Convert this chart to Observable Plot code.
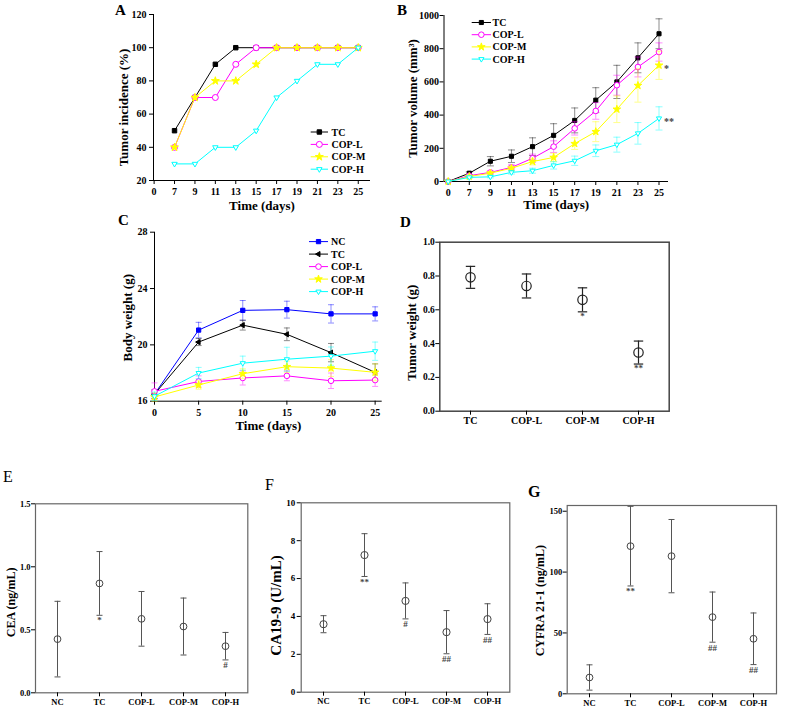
<!DOCTYPE html>
<html><head><meta charset="utf-8">
<script src="https://cdn.jsdelivr.net/npm/d3@7"></script>
<script src="https://cdn.jsdelivr.net/npm/@observablehq/plot@0.6"></script>
<style>
html,body{margin:0;padding:0;background:#fff;}
#fig{position:relative;width:787px;height:711px;overflow:hidden;font-family:"Liberation Serif",serif;}
</style></head><body><div id="fig"></div>
<script>
// ---------------- DATA ----------------
// Panel A: tumor incidence (%)
const daysAB = [0, 7, 9, 11, 13, 15, 17, 19, 21, 23, 25];
const daysA = [7, 9, 11, 13, 15, 17, 19, 21, 23, 25];
const incTC   = [50, 70, 90, 100, 100, 100, 100, 100, 100, 100];
const incCOPL = [40, 70, 70, 90, 100, 100, 100, 100, 100, 100];
const incCOPM = [40, 70, 80, 80, 90, 100, 100, 100, 100, 100];
const incCOPH = [30, 30, 40, 40, 50, 70, 80, 90, 90, 100];
// Panel B: tumor volume (mm3)
const volTC    = [0, 50, 122, 152, 210, 278, 368, 490, 600, 745, 890];
const volTCe   = [0, 8, 28, 38, 53, 70, 75, 75, 100, 90, 90];
const volCOPL  = [0, 35, 55, 85, 140, 210, 320, 425, 580, 690, 780];
const volCOPLe = [0, 6, 10, 15, 25, 35, 40, 50, 60, 60, 55];
const volCOPM  = [0, 30, 50, 80, 120, 145, 228, 300, 435, 578, 700];
const volCOPMe = [0, 5, 10, 12, 20, 25, 35, 60, 80, 100, 85];
const volCOPH  = [0, 25, 28, 55, 65, 97, 125, 185, 222, 290, 380];
const volCOPHe = [0, 5, 6, 10, 15, 22, 28, 35, 45, 65, 70];
const volSig = [{g: "COP-M", v: 700, s: "*"}, {g: "COP-H", v: 380, s: "**"}];
// Panel C: body weight (g)
const daysC = [0, 5, 10, 15, 20, 25];
const bwNC    = [16.5, 21.05, 22.45, 22.5, 22.2, 22.2];
const bwNCe   = [0.3, 0.55, 0.7, 0.6, 0.65, 0.5];
const bwTC    = [16.5, 20.2, 21.4, 20.75, 19.45, 18.05];
const bwTCe   = [0.3, 0.25, 0.35, 0.45, 0.65, 0.6];
const bwCOPL  = [16.7, 17.4, 17.65, 17.8, 17.45, 17.5];
const bwCOPLe = [0.6, 0.4, 0.5, 0.35, 0.55, 0.45];
const bwCOPM  = [16.3, 17.15, 17.95, 18.45, 18.35, 18.05];
const bwCOPMe = [0.3, 0.3, 0.35, 0.4, 0.6, 0.6];
const bwCOPH  = [16.35, 18.0, 18.7, 18.98, 19.2, 19.55];
const bwCOPHe = [0.3, 0.4, 0.5, 0.85, 0.65, 0.65];
// Panel D: tumor weight (g)
const groupsD = ["TC", "COP-L", "COP-M", "COP-H"];
const twMean = [0.792, 0.741, 0.659, 0.347];
const twErr  = [0.065, 0.071, 0.071, 0.068];
const twSig  = ["", "", "*", "**"];
// Panels E-G: serum markers
const groups5 = ["NC", "TC", "COP-L", "COP-M", "COP-H"];
const ceaMean = [0.426, 0.868, 0.587, 0.526, 0.370];
const ceaErr  = [0.300, 0.253, 0.217, 0.226, 0.109];
const ceaSig  = ["", "*", "", "", "#"];
const caMean = [3.59, 7.24, 4.82, 3.17, 3.86];
const caErr  = [0.45, 1.13, 0.95, 1.14, 0.81];
const caSig  = ["", "**", "#", "##", "##"];
const cyMean = [13.4, 121.3, 113.1, 63.0, 45.2];
const cyErr  = [10.4, 32.7, 30.1, 20.6, 21.2];
const cySig  = ["", "**", "", "##", "##"];

// ---------------- HELPERS ----------------
const FONT = "Liberation Serif";
const fig = document.getElementById("fig");
const baseStyle = {fontFamily: FONT, fontWeight: "bold", fontSize: "10px", background: "none", overflow: "visible", color: "black"};

const capSym = {draw(ctx, size) { const w = Math.sqrt(size / Math.PI); ctx.moveTo(-w, 0); ctx.lineTo(w, 0); }};
const triDown = {draw(ctx, size) { const R = Math.sqrt(size / Math.PI) * 1.3; ctx.moveTo(0, R); ctx.lineTo(-R * 0.866, -R / 2); ctx.lineTo(R * 0.866, -R / 2); ctx.closePath(); }};
const triLeft = {draw(ctx, size) { const R = Math.sqrt(size / Math.PI) * 1.3; ctx.moveTo(-R, 0); ctx.lineTo(R / 2, -R * 0.866); ctx.lineTo(R / 2, R * 0.866); ctx.closePath(); }};

function place(svg, left, top) {
  svg.style.position = "absolute";
  svg.style.left = left + "px";
  svg.style.top = top + "px";
  fig.appendChild(svg);
  return svg;
}

function errBars(rows, color, capR, op, sw) {
  const r = rows.filter(d => d.e > 0);
  const o = {stroke: color, strokeOpacity: op, strokeWidth: sw};
  return [
    Plot.ruleX(r, {x: "x", y1: d => d.v - d.e, y2: d => d.v + d.e, ...o}),
    Plot.dot(r, {x: "x", y: d => d.v - d.e, symbol: capSym, r: capR, fill: "none", ...o}),
    Plot.dot(r, {x: "x", y: d => d.v + d.e, symbol: capSym, r: capR, fill: "none", ...o})
  ];
}

function legend(svg, items, x0, x1, tx, y0, dy) {
  const g = d3.select(svg).append("g").attr("font-family", FONT).attr("font-weight", "bold")
    .attr("font-size", 10).attr("text-anchor", "start");
  items.forEach((it, i) => {
    const y = y0 + i * dy;
    g.append("line").attr("x1", x0).attr("x2", x1).attr("y1", y).attr("y2", y).attr("stroke", it.color).attr("stroke-width", 1);
    g.append("path").attr("d", d3.symbol(it.sym, Math.PI * it.r * it.r)())
      .attr("transform", `translate(${(x0 + x1) / 2},${y})`)
      .attr("fill", it.filled ? it.color : "white").attr("stroke", it.color).attr("stroke-width", 1);
    g.append("text").attr("x", tx).attr("y", y).attr("dy", "0.35em").attr("fill", "black").text(it.name);
  });
}

function linePanel(o) {
  const marks = [
    Plot.ruleX([o.xDomain[0]], {stroke: "black", strokeWidth: 1}),
    Plot.ruleY([o.yDomain[0]], {stroke: "black", strokeWidth: 1}),
    Plot.axisY({ticks: o.yTicks, tickFormat: d => String(d), tickSize: 4, tickPadding: o.yPad, label: null, fontSize: 10}),
    Plot.axisX({ticks: o.xTicks, tickFormat: o.xFormat, tickSize: 4, tickPadding: o.xPad, label: null, fontSize: 10})
  ];
  for (const s of o.series) {
    marks.push(Plot.line(s.rows, {x: "x", y: "v", stroke: s.color, strokeWidth: 1}));
    if (o.err) marks.push(...errBars(s.rows, s.color, o.capR, 0.45, 1));
    marks.push(Plot.dot(s.rows, {x: "x", y: "v", symbol: s.sym, r: s.r, fill: s.filled ? s.color : "white", stroke: s.color, strokeWidth: 1}));
  }
  marks.push(Plot.text([o.xLabel], {text: d => d, frameAnchor: "bottom", dy: o.xLabelDy, fontSize: 13, fontWeight: "bold"}));
  marks.push(Plot.text([o.yLabel], {text: d => d, frameAnchor: "left", rotate: -90, dx: o.yLabelDx, dy: o.yLabelDy, textAnchor: "middle", lineAnchor: "middle", fontSize: 13, fontWeight: "bold"}));
  if (o.extra) marks.push(...o.extra);
  const svg = Plot.plot({
    width: o.width, height: o.height,
    marginLeft: o.m[0], marginRight: o.m[1], marginTop: o.m[2], marginBottom: o.m[3],
    x: {domain: o.xDomain, label: null},
    y: {domain: o.yDomain, label: null},
    style: baseStyle,
    marks
  });
  place(svg, o.left, o.top);
  legend(svg, o.series, ...o.legend);
  return svg;
}

function catPanel(o) {
  const rows = o.groups.map((g, i) => ({x: g, v: o.mean[i], e: o.err[i], s: o.sig[i]}));
  const marks = [
    Plot.frame({stroke: o.frameColor, strokeWidth: o.frameWidth}),
    Plot.axisY({ticks: o.yTicks, tickFormat: o.yFormat, tickSize: 4, tickPadding: o.yPad, label: null, fontSize: o.tickFont}),
    Plot.axisX({tickSize: 4, tickPadding: 2, label: null, fontSize: o.catFont}),
    ...errBars(rows, o.barColor, o.capR, 1, o.barWidth),
    Plot.dot(rows, {x: "x", y: "v", r: o.r, fill: "none", stroke: o.dotColor, strokeWidth: o.barWidth}),
    Plot.text(rows, {x: "x", y: d => d.v - d.e, text: "s", lineAnchor: "top", dy: o.sigDy, fontSize: 9, fontWeight: "bold", fill: "#444"}),
    Plot.text([o.yLabel], {text: d => d, frameAnchor: "left", rotate: -90, dx: o.yLabelDx, dy: o.yLabelDy, textAnchor: "middle", lineAnchor: "middle", fontSize: o.yLabelSize, fontWeight: "bold"})
  ];
  const svg = Plot.plot({
    width: o.width, height: o.height,
    marginLeft: o.m[0], marginRight: o.m[1], marginTop: o.m[2], marginBottom: o.m[3],
    x: {type: "point", domain: o.groups, padding: o.padding, label: null},
    y: {domain: o.yDomain, label: null},
    style: baseStyle,
    marks
  });
  place(svg, o.left, o.top);
  return svg;
}

const idx = d => daysAB.indexOf(d);
const mk = (days, vals, errs, xf) => days.map((d, i) => ({x: xf(d), v: vals[i], e: errs ? errs[i] : 0}));

const C_TC = "#000000", C_L = "#ff00ff", C_M = "#ffff00", C_H = "#00ffff", C_NC = "#0000ff";

// ---------------- PANEL A ----------------
linePanel({
  left: 0, top: 0, width: 390, height: 220, m: [153, 20, 14, 40],
  xDomain: [-0.03, 10.6], yDomain: [20, 120],
  xTicks: d3.range(daysAB.length), xFormat: i => daysAB[i], yTicks: [20, 40, 60, 80, 100, 120],
  xPad: 3, yPad: 3, err: false,
  xLabel: "Time (days)", xLabelDy: 29, yLabel: "Tumor incidence (%)", yLabelDx: -30, yLabelDy: 10,
  series: [
    {name: "TC", rows: mk(daysA, incTC, null, idx), color: C_TC, sym: d3.symbolSquare, r: 2.5, filled: true},
    {name: "COP-L", rows: mk(daysA, incCOPL, null, idx), color: C_L, sym: d3.symbolCircle, r: 3, filled: false},
    {name: "COP-M", rows: mk(daysA, incCOPM, null, idx), color: C_M, sym: d3.symbolStar, r: 2.5, filled: true},
    {name: "COP-H", rows: mk(daysA, incCOPH, null, idx), color: C_H, sym: triDown, r: 2.4, filled: false}
  ],
  legend: [310.7, 328, 331.5, 132, 12.4]
});

// ---------------- PANEL B ----------------
linePanel({
  left: 390, top: 0, width: 397, height: 220, m: [53.5, 119, 15, 39],
  xDomain: [-0.2, 10.45], yDomain: [0, 1000],
  xTicks: d3.range(daysAB.length), xFormat: i => daysAB[i], yTicks: [0, 200, 400, 600, 800, 1000],
  xPad: 3, yPad: 1, err: true, capR: 3.5,
  xLabel: "Time (days)", xLabelDy: 27, yLabel: "Tumor volume (mm³)", yLabelDx: -31.5, yLabelDy: 0,
  series: [
    {name: "TC", rows: mk(daysAB, volTC, volTCe, idx), color: C_TC, sym: d3.symbolSquare, r: 2.3, filled: true},
    {name: "COP-L", rows: mk(daysAB, volCOPL, volCOPLe, idx), color: C_L, sym: d3.symbolCircle, r: 2.8, filled: false},
    {name: "COP-M", rows: mk(daysAB, volCOPM, volCOPMe, idx), color: C_M, sym: d3.symbolStar, r: 2.4, filled: true},
    {name: "COP-H", rows: mk(daysAB, volCOPH, volCOPHe, idx), color: C_H, sym: triDown, r: 2.3, filled: false}
  ],
  extra: [Plot.text(volSig, {x: () => idx(25), y: "v", text: "s", dx: 5, dy: 3, textAnchor: "start", fontSize: 10, fill: "#444"})],
  legend: [81.7, 101, 102.5, 22.5, 12.2]
});

// ---------------- PANEL C ----------------
const idC = d => d;
linePanel({
  left: 0, top: 220, width: 390, height: 225, m: [154, 8.3, 11.7, 44.3],
  xDomain: [0, 25.8], yDomain: [16, 28],
  xTicks: daysC, xFormat: d => d, yTicks: [16, 20, 24, 28],
  xPad: 4, yPad: 3, err: true, capR: 3,
  xLabel: "Time (days)", xLabelDy: 29, yLabel: "Body weight (g)", yLabelDx: -27, yLabelDy: 1,
  series: [
    {name: "NC", rows: mk(daysC, bwNC, bwNCe, idC), color: C_NC, sym: d3.symbolSquare, r: 2.4, filled: true},
    {name: "TC", rows: mk(daysC, bwTC, bwTCe, idC), color: C_TC, sym: triLeft, r: 2.3, filled: true},
    {name: "COP-L", rows: mk(daysC, bwCOPL, bwCOPLe, idC), color: C_L, sym: d3.symbolCircle, r: 2.8, filled: false},
    {name: "COP-M", rows: mk(daysC, bwCOPM, bwCOPMe, idC), color: C_M, sym: d3.symbolStar, r: 2.4, filled: true},
    {name: "COP-H", rows: mk(daysC, bwCOPH, bwCOPHe, idC), color: C_H, sym: triDown, r: 2.3, filled: false}
  ],
  legend: [309, 328, 331, 21.6, 12.5]
});

// ---------------- PANEL D ----------------
catPanel({
  left: 390, top: 220, width: 397, height: 225, m: [49.3, 118.3, 21.7, 34.3],
  groups: groupsD, mean: twMean, err: twErr, sig: twSig, padding: 0.52,
  yDomain: [0, 1], yTicks: [0, 0.2, 0.4, 0.6, 0.8, 1.0], yFormat: d3.format(".1f"), yPad: 1,
  tickFont: 9.5, catFont: 10, frameColor: "#444", frameWidth: 1.5,
  barColor: "#222", barWidth: 1.2, dotColor: "#222", r: 4.7, capR: 4.7, sigDy: 1,
  yLabel: "Tumor weight (g)", yLabelDx: -27.6, yLabelDy: 6, yLabelSize: 13
});

// ---------------- PANEL E ----------------
catPanel({
  left: 0, top: 450, width: 262, height: 261, m: [35, 14.7, 53.3, 18.7],
  groups: groups5, mean: ceaMean, err: ceaErr, sig: ceaSig, padding: 0.5,
  yDomain: [0, 1.5], yTicks: [0, 0.5, 1.0, 1.5], yFormat: d3.format(".1f"), yPad: 1,
  tickFont: 8.5, catFont: 8.5, frameColor: "#666", frameWidth: 1.2,
  barColor: "#555", barWidth: 1, dotColor: "#444", r: 3.4, capR: 3, sigDy: 1.5,
  yLabel: "CEA (ng/mL)", yLabelDx: -24, yLabelDy: 4, yLabelSize: 12
});

// ---------------- PANEL F ----------------
catPanel({
  left: 262, top: 450, width: 258, height: 261, m: [38.7, 10.7, 52.3, 19.3],
  groups: groups5, mean: caMean, err: caErr, sig: caSig, padding: 0.5,
  yDomain: [0, 10], yTicks: [0, 2, 4, 6, 8, 10], yFormat: d => d, yPad: 2,
  tickFont: 9, catFont: 8.5, frameColor: "#666", frameWidth: 1.2,
  barColor: "#555", barWidth: 1, dotColor: "#444", r: 3.6, capR: 3, sigDy: 2,
  yLabel: "CA19-9 (U/mL)", yLabelDx: -24.7, yLabelDy: 8, yLabelSize: 15
});

// ---------------- PANEL G ----------------
catPanel({
  left: 520, top: 450, width: 267, height: 261, m: [46.7, 11, 55, 17.7],
  groups: groups5, mean: cyMean, err: cyErr, sig: cySig, padding: 0.5,
  yDomain: [0, 154.7], yTicks: [0, 50, 100, 150], yFormat: d => d, yPad: 1,
  tickFont: 8.5, catFont: 8.5, frameColor: "#666", frameWidth: 1.2,
  barColor: "#555", barWidth: 1, dotColor: "#444", r: 3.4, capR: 3, sigDy: 2,
  yLabel: "CYFRA 21-1 (ng/mL)", yLabelDx: -26.7, yLabelDy: 1, yLabelSize: 12
});

// ---------------- PANEL LETTERS ----------------
const letters = [
  {t: "A", x: 115, y: 15, w: "bold", s: 15},
  {t: "B", x: 397, y: 15, w: "bold", s: 15},
  {t: "C", x: 118, y: 225, w: "bold", s: 15},
  {t: "D", x: 400, y: 226.5, w: "bold", s: 15},
  {t: "E", x: 3, y: 481.5, w: "normal", s: 16},
  {t: "F", x: 265, y: 490, w: "normal", s: 16},
  {t: "G", x: 528, y: 497, w: "bold", s: 16}
];
const ov = d3.create("svg").attr("width", 787).attr("height", 711)
  .style("position", "absolute").style("left", "0px").style("top", "0px").style("pointer-events", "none");
ov.selectAll("text").data(letters).join("text")
  .attr("x", d => d.x).attr("y", d => d.y).attr("font-family", FONT)
  .attr("font-weight", d => d.w).attr("font-size", d => d.s).text(d => d.t);
fig.appendChild(ov.node());
</script>
</body></html>
